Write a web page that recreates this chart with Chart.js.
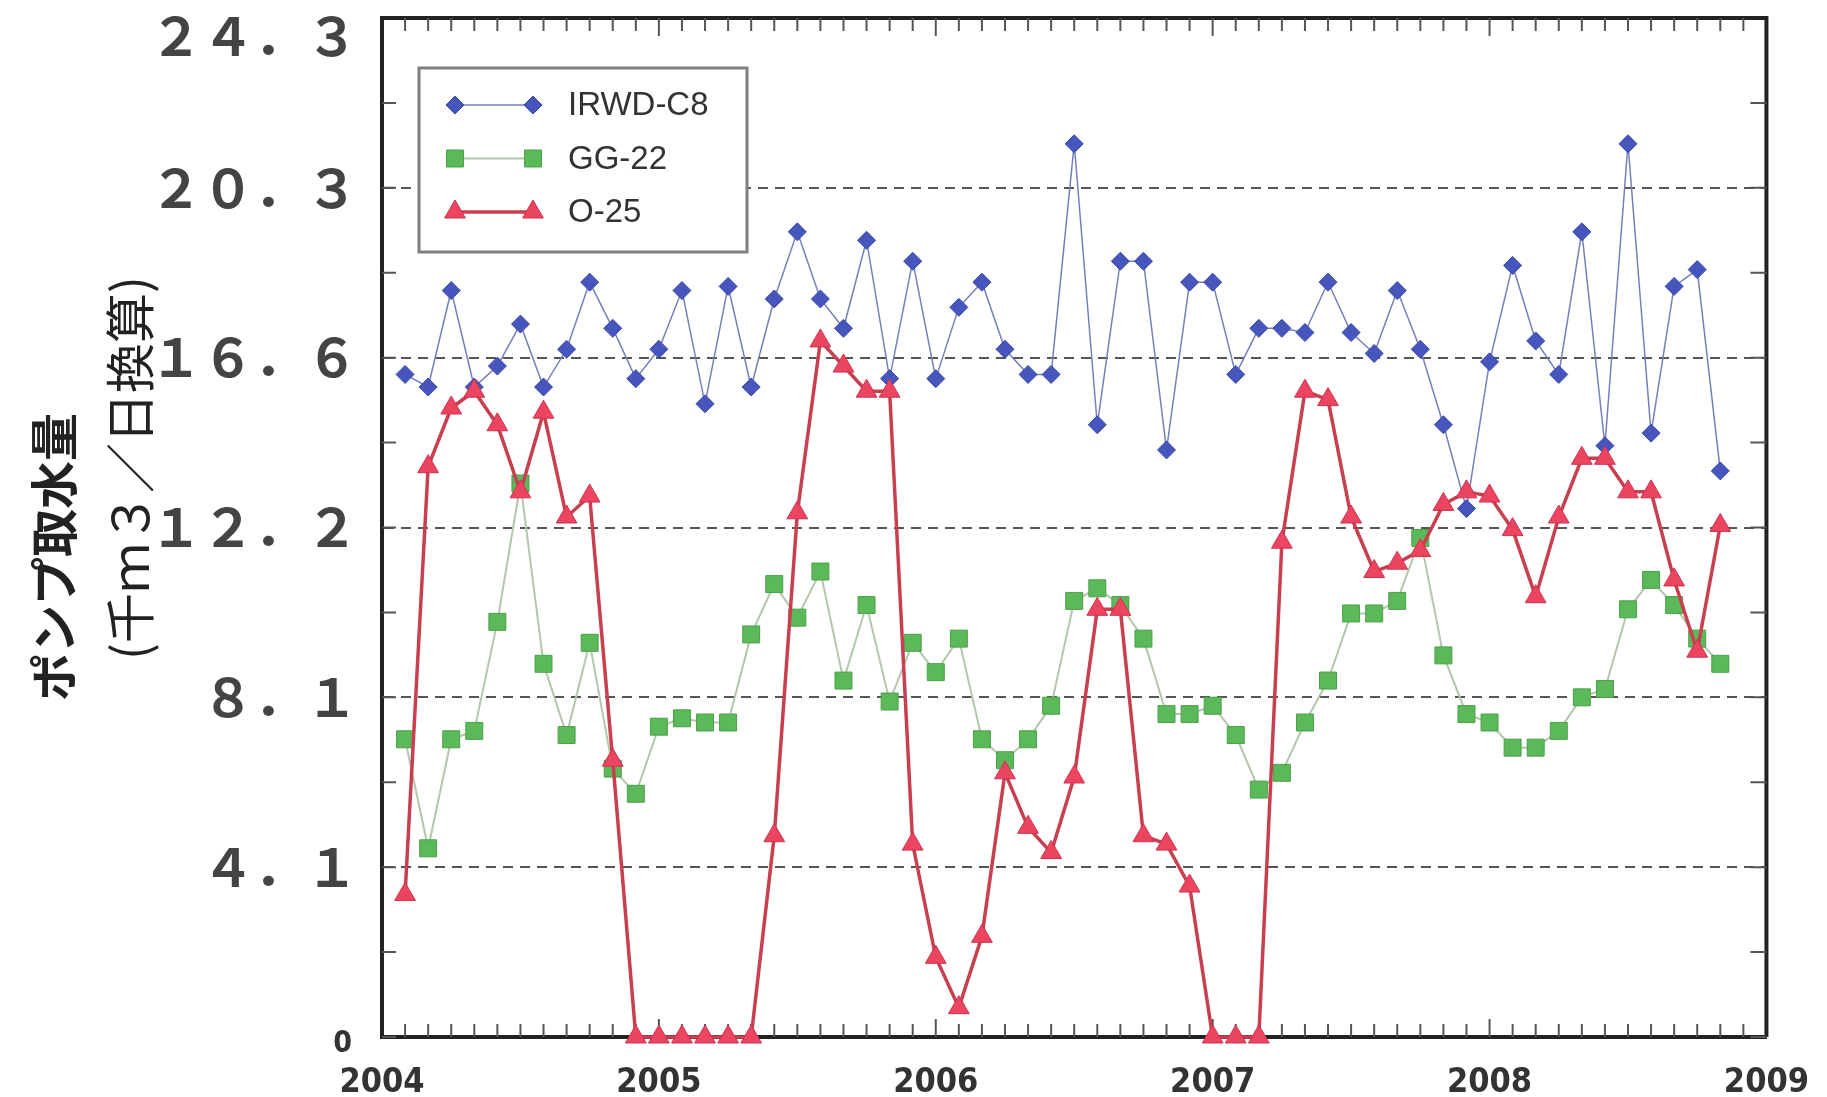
<!DOCTYPE html>
<html lang="ja">
<head>
<meta charset="utf-8">
<title>ポンプ取水量</title>
<script src="https://cdn.jsdelivr.net/npm/chart.js@4.4.1/dist/chart.umd.min.js"></script>
<style>
    html, body { margin: 0; padding: 0; background: #fff; }
    #wrap { width: 1827px; height: 1097px; }
</style>
</head>
<body>
<div id="wrap"><canvas id="pumpChart" width="1827" height="1097"></canvas></div>
<script>
/* ============================================================
   DATA (monthly readings, first one is Feb 2004)
   ============================================================ */
const startYear = 2004;
const startMonth = 2;

const irwdC8 = [15.8, 15.5, 17.8, 15.5, 16.0, 17.0, 15.5, 16.4, 18.0, 16.9,
                15.7, 16.4, 17.8, 15.1, 17.9, 15.5, 17.6, 19.2, 17.6, 16.9,
                19.0, 15.7, 18.5, 15.7, 17.4, 18.0, 16.4, 15.8, 15.8, 21.3,
                14.6, 18.5, 18.5, 14.0, 18.0, 18.0, 15.8, 16.9, 16.9, 16.8,
                18.0, 16.8, 16.3, 17.8, 16.4, 14.6, 12.6, 16.1, 18.4, 16.6,
                15.8, 19.2, 14.1, 21.3, 14.4, 17.9, 18.3, 13.5];

const gg22 = [7.1, 4.5, 7.1, 7.3, 9.9, 13.2, 8.9, 7.2, 9.4, 6.4,
              5.8, 7.4, 7.6, 7.5, 7.5, 9.6, 10.8, 10.0, 11.1, 8.5,
              10.3, 8.0, 9.4, 8.7, 9.5, 7.1, 6.6, 7.1, 7.9, 10.4,
              10.7, 10.3, 9.5, 7.7, 7.7, 7.9, 7.2, 5.9, 6.3, 7.5,
              8.5, 10.1, 10.1, 10.4, 11.9, 9.1, 7.7, 7.5, 6.9, 6.9,
              7.3, 8.1, 8.3, 10.2, 10.9, 10.3, 9.5, 8.9];

const o25 = [3.4, 13.6, 15.0, 15.4, 14.6, 13.0, 14.9, 12.4, 12.9, 6.6,
             0, 0, 0, 0, 0, 0, 4.8, 12.5, 16.6, 16.0,
             15.4, 15.4, 4.6, 1.9, 0.7, 2.4, 6.3, 5.0, 4.4, 6.2,
             10.2, 10.2, 4.8, 4.6, 3.6, 0, 0, 0, 11.8, 15.4,
             15.2, 12.4, 11.1, 11.3, 11.6, 12.7, 13.0, 12.9, 12.1, 10.5,
             12.4, 13.8, 13.8, 13.0, 13.0, 10.9, 9.2, 12.2];

const seriesNames = ["IRWD-C8", "GG-22", "O-25"];

const yTickValues = [0, 4.05, 8.1, 12.15, 16.2, 20.25, 24.3];
const yTickLabels = ["0", "４．１", "８．１", "１２．２", "１６．６", "２０．３", "２４．３"];
const yTitleLines = ["ポンプ取水量", "(千ｍ３／日換算)"];

const xMin = 2004;
const xMax = 2009;

// month position on the time axis
const xPos = irwdC8.map((_, i) => startYear + (startMonth - 1 + i) / 12);
const toPoints = arr => arr.map((v, i) => ({ x: xPos[i], y: v }));

/* ============================================================
   FRAME + INSIDE TICKS
   ============================================================ */
const framePlugin = {
    id: "frame",
    beforeDatasetsDraw(chart) {
        const { ctx, chartArea: a, scales: { x, y } } = chart;
        ctx.save();

        // top + right border
        ctx.strokeStyle = "#222";
        ctx.lineWidth = 4;
        ctx.beginPath();
        ctx.moveTo(a.left, a.top);
        ctx.lineTo(a.right, a.top);
        ctx.lineTo(a.right, a.bottom);
        ctx.stroke();

        // monthly ticks top and bottom
        ctx.strokeStyle = "#555";
        ctx.lineWidth = 2;
        ctx.beginPath();
        const months = (xMax - xMin) * 12;
        for (let m = 1; m < months; m++) {
            const px = x.getPixelForValue(xMin + m / 12);
            const len = m % 12 === 0 ? 18 : 13;
            ctx.moveTo(px, a.bottom);
            ctx.lineTo(px, a.bottom - len);
            ctx.moveTo(px, a.top);
            ctx.lineTo(px, a.top + len);
        }

        // major + half step ticks left and right
        for (let i = 0; i < yTickValues.length - 1; i++) {
            const vals = [yTickValues[i], (yTickValues[i] + yTickValues[i + 1]) / 2];
            vals.forEach(v => {
                const py = y.getPixelForValue(v);
                ctx.moveTo(a.left, py);
                ctx.lineTo(a.left + 14, py);
                ctx.moveTo(a.right, py);
                ctx.lineTo(a.right - 16, py);
            });
        }
        ctx.stroke();
        ctx.restore();
    }
};

/* ============================================================
   Y LABELS + Y TITLE (drawn by hand, labels are full width)
   ============================================================ */
const labelPlugin = {
    id: "yLabels",
    afterDraw(chart) {
        const { ctx, chartArea: a, scales: { y } } = chart;
        ctx.save();
        ctx.textBaseline = "middle";
        ctx.textAlign = "right";

        yTickValues.forEach((v, i) => {
            const py = y.getPixelForValue(v);
            if (v === 0) {
                ctx.fillStyle = "#333";
                ctx.font = "bold 30px 'Liberation Sans Narrow', 'DejaVu Sans Condensed', sans-serif";
                ctx.fillText(yTickLabels[i], a.left - 30, py + 7);
            } else {
                ctx.fillStyle = "#444";
                ctx.font = "bold 52px 'Noto Sans CJK JP'";
                ctx.fillText(yTickLabels[i], a.left - 24, Math.max(py, a.top + 18));
            }
        });

        // two line rotated title
        ctx.fillStyle = "#222";
        ctx.textAlign = "center";
        const titles = [
            { text: yTitleLines[0], cx: 54, cy: 557, font: "bold 48px 'Noto Sans CJK JP'" },
            { text: yTitleLines[1], cx: 130, cy: 468, font: "50px 'Noto Sans CJK JP'" }
        ];
        titles.forEach(t => {
            ctx.save();
            ctx.translate(t.cx, t.cy);
            ctx.rotate(-Math.PI / 2);
            ctx.font = t.font;
            ctx.fillText(t.text, 0, 0);
            ctx.restore();
        });
        ctx.restore();
    }
};

/* ============================================================
   LEGEND (marker - line - marker, like the original)
   ============================================================ */
const legendPlugin = {
    id: "boxLegend",
    afterDraw(chart) {
        const { ctx, chartArea: a } = chart;
        const box = { x: a.left + 37, y: a.top + 50, w: 328, h: 184 };

        ctx.save();
        ctx.fillStyle = "#fff";
        ctx.fillRect(box.x, box.y, box.w, box.h);
        ctx.strokeStyle = "#808080";
        ctx.lineWidth = 3;
        ctx.strokeRect(box.x, box.y, box.w, box.h);

        chart.data.datasets.forEach((ds, i) => {
            const cy = box.y + 37 + i * 53.5;
            const x1 = box.x + 36;
            const x2 = box.x + 114;

            ctx.strokeStyle = ds.borderColor;
            ctx.lineWidth = ds.borderWidth;
            ctx.beginPath();
            ctx.moveTo(x1, cy);
            ctx.lineTo(x2, cy);
            ctx.stroke();

            ctx.fillStyle = ds.pointBackgroundColor;
            ctx.strokeStyle = ds.pointBorderColor;
            ctx.lineWidth = 1;
            const opts = { pointStyle: ds.pointStyle, radius: ds.pointRadius, rotation: 0, borderWidth: 1 };
            Chart.helpers.drawPoint(ctx, opts, x1, cy);
            Chart.helpers.drawPoint(ctx, opts, x2, cy);

            ctx.fillStyle = "#333";
            ctx.font = "33px 'Liberation Sans', Arial, sans-serif";
            ctx.textAlign = "left";
            ctx.textBaseline = "middle";
            ctx.fillText(ds.label, box.x + 149, cy + 1);
        });
        ctx.restore();
    }
};

/* ============================================================
   CHART
   ============================================================ */
new Chart(document.getElementById("pumpChart"), {
    type: "line",
    data: {
        datasets: [
            {
                label: seriesNames[0],
                data: toPoints(irwdC8),
                borderColor: "#7480b8",
                borderWidth: 1.5,
                pointStyle: "rectRot",
                pointRadius: 9,
                pointBackgroundColor: "#4656bd",
                pointBorderColor: "#3a48a8",
                pointBorderWidth: 1,
                tension: 0,
                clip: false,
                order: 1
            },
            {
                label: seriesNames[1],
                data: toPoints(gg22),
                borderColor: "#b4c6ac",
                borderWidth: 2,
                pointStyle: "rect",
                pointRadius: 12,
                pointBackgroundColor: "#5cb95a",
                pointBorderColor: "#4aa048",
                pointBorderWidth: 1,
                tension: 0,
                clip: false,
                order: 2
            },
            {
                label: seriesNames[2],
                data: toPoints(o25),
                borderColor: "#c8404f",
                borderWidth: 3.5,
                pointStyle: "triangle",
                pointRadius: 12,
                pointBackgroundColor: "#ec4560",
                pointBorderColor: "#d03050",
                pointBorderWidth: 1,
                tension: 0,
                clip: false,
                order: 0
            }
        ]
    },
    options: {
        responsive: false,
        animation: false,
        devicePixelRatio: 1,
        layout: { padding: { top: 18, right: 47, left: 0, bottom: 0 } },
        plugins: {
            legend: { display: false },
            tooltip: { enabled: false }
        },
        scales: {
            x: {
                type: "linear",
                min: xMin,
                max: xMax,
                afterFit: s => { s.height = 60; },
                grid: { display: false },
                border: { display: true, color: "#222", width: 4 },
                ticks: {
                    stepSize: 1,
                    padding: 18,
                    maxRotation: 0,
                    color: "#333",
                    font: { family: "'Liberation Sans Narrow', 'DejaVu Sans Condensed', sans-serif", size: 34, weight: "bold" },
                    callback: v => String(v)
                }
            },
            y: {
                min: 0,
                max: 24.3,
                afterBuildTicks: s => { s.ticks = yTickValues.map(v => ({ value: v })); },
                afterFit: s => { s.width = 382; },
                grid: {
                    drawTicks: false,
                    lineWidth: 2,
                    color: c => (c.index === 0 || c.index === yTickValues.length - 1) ? "rgba(0,0,0,0)" : "#555"
                },
                border: { display: true, color: "#222", width: 4, dash: [10, 7] },
                ticks: { display: false }
            }
        }
    },
    plugins: [framePlugin, labelPlugin, legendPlugin]
});
</script>
</body>
</html>
